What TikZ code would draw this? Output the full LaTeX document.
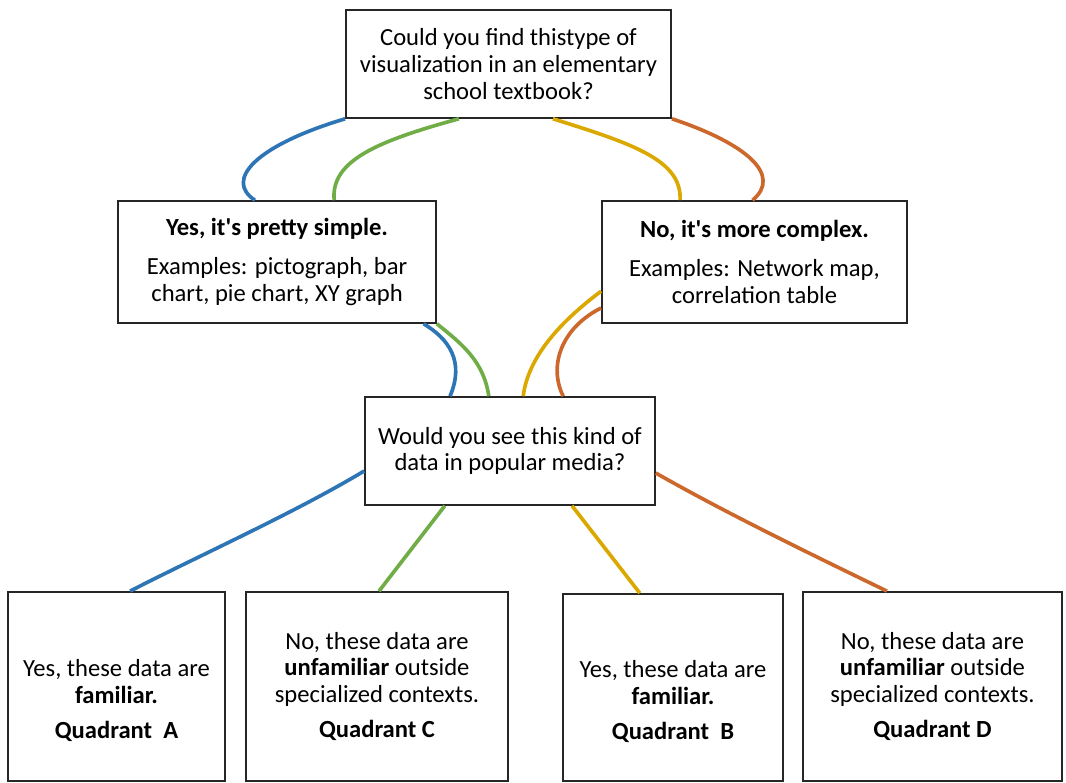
\documentclass[tikz,border=0pt]{standalone}
\usepackage{fontspec}
\setmainfont{Carlito}
\usepackage{tikz}

\definecolor{qblue}{RGB}{46,117,182}
\definecolor{qgreen}{RGB}{112,173,71}
\definecolor{qyellow}{RGB}{218,168,0}
\definecolor{qorange}{RGB}{204,104,44}

\begin{document}
\begin{tikzpicture}[x=0.025cm,y=-0.025cm,
                    box/.style={draw=black!85,line width=1.1pt,fill=white,align=center,
                                font=\fontsize{17.5}{19}\selectfont},
                    link/.style={line width=2.6pt}
                    ]

                \useasboundingbox (0,0) rectangle (1066,783);

                % The questions and answers
                \node[box,minimum width=8.13cm,minimum height=2.7cm] (textbook) at (508.5,64)
                    {Could you find thistype of\\visualization in an elementary\\school textbook?};
                \node[box,minimum width=7.95cm,minimum height=3.05cm] (simple) at (277,262)
                    {\textbf{Yes, it\textquotesingle s pretty simple.}\\[9pt]Examples: pictograph, bar\\chart, pie chart, XY graph};
                \node[box,minimum width=7.63cm,minimum height=3.05cm] (complex) at (754.5,262)
                    {\textbf{No, it\textquotesingle s more complex.}\\[9pt]Examples: Network map,\\correlation table};
                \node[box,minimum width=7.25cm,minimum height=2.7cm] (media) at (510,451)
                    {Would you see this kind of\\data in popular media?};

                % The quadrants
                \node[box,minimum width=5.43cm,minimum height=4.73cm] (quadA) at (116.5,686.5)
                    {\rule{0pt}{32pt}Yes, these data are\\\textbf{familiar.}\\[6pt]\textbf{Quadrant\ \ A}};
                \node[box,minimum width=6.55cm,minimum height=4.73cm] (quadC) at (377,686.5)
                    {No, these data are\\\textbf{unfamiliar} outside\\specialized contexts.\\[6pt]\textbf{Quadrant\ C}};
                \node[box,minimum width=5.5cm,minimum height=4.68cm] (quadB) at (673,687.5)
                    {\rule{0pt}{32pt}Yes, these data are\\\textbf{familiar.}\\[6pt]\textbf{Quadrant\ \ B}};
                \node[box,minimum width=6.48cm,minimum height=4.73cm] (quadD) at (932.5,686.5)
                    {No, these data are\\\textbf{unfamiliar} outside\\specialized contexts.\\[6pt]\textbf{Quadrant\ D}};

                % The curves, upper level
                \draw[link,qblue] (textbook.south west) .. controls +(-90,27) and +(-31,-20) .. ([xshift=-0.55cm]simple.north);
                \draw[link,qgreen] ([xshift=-1.24cm]textbook.south) .. controls +(-80,22) and +(-4,-40) .. ([xshift=1.43cm]simple.north);
                \draw[link,qyellow] ([xshift=1.11cm]textbook.south) .. controls +(80,25) and +(2,-40) .. ([xshift=-1.86cm]complex.north);
                \draw[link,qorange] (textbook.south east) .. controls +(75,25) and +(30,-25) .. ([xshift=-0.05cm]complex.north);

                % The curves, middle level
                \draw[link,qblue] ([xshift=-0.33cm]simple.south east) .. controls +(25,15) and +(15,-35) .. ([xshift=-1.5cm]media.north);
                \draw[link,qgreen] (simple.south east) .. controls +(25,20) and +(-5,-35) .. ([xshift=-0.53cm]media.north);
                \draw[link,qyellow] ([yshift=-0.73cm]complex.west) .. controls +(-40,30) and +(5,-40) .. ([xshift=0.33cm]media.north);
                \draw[link,qorange] ([yshift=-1.15cm]complex.west) .. controls +(-40,20) and +(-15,-30) .. ([xshift=1.33cm]media.north);

                % The curves, lower level
                \draw[link,qblue] ([yshift=-0.5cm]media.west) .. controls +(-70,42) and +(70,-36) .. ([xshift=0.34cm]quadA.north);
                \draw[link,qgreen] ([xshift=-1.63cm]media.south) -- ([xshift=0.05cm]quadC.north);
                \draw[link,qyellow] ([xshift=1.55cm]media.south) -- ([xshift=-0.83cm]quadB.north);
                \draw[link,qorange] ([yshift=-0.55cm]media.east) .. controls +(70,40) and +(-70,-34) .. ([xshift=-1.14cm]quadD.north);
            \end{tikzpicture}
\end{document}
